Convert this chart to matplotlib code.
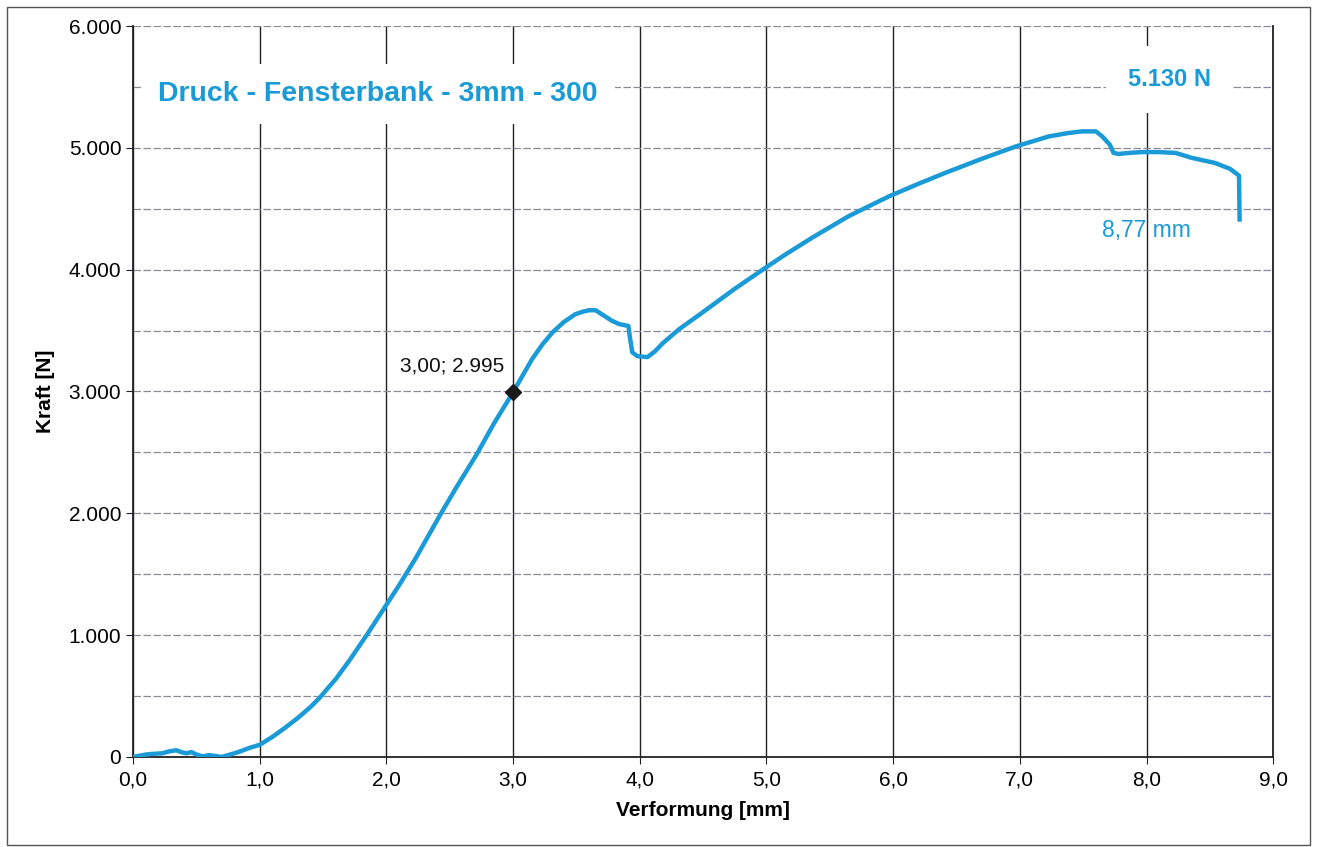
import matplotlib.pyplot as plt
from matplotlib.ticker import FuncFormatter, MultipleLocator
from matplotlib.patches import Rectangle

plt.rcParams['font.family'] = ['Liberation Sans', 'DejaVu Sans']

# Messkurve
verformung = [0.0, 0.05, 0.10, 0.15, 0.23, 0.28, 0.34, 0.38, 0.42, 0.46, 0.50, 0.55, 0.60, 0.65, 0.70,
              0.83, 0.92, 1.00, 1.10, 1.20, 1.30, 1.40, 1.47, 1.60, 1.71, 1.85, 2.00, 2.10, 2.23,
              2.42, 2.55, 2.71, 2.85, 3.00, 3.08, 3.15, 3.23, 3.31, 3.40, 3.49, 3.55, 3.60, 3.65,
              3.70, 3.78, 3.84, 3.91, 3.92, 3.94, 3.98, 4.06, 4.12, 4.18, 4.31, 4.47, 4.57, 4.75,
              4.97, 5.15, 5.36, 5.65, 5.97, 6.20, 6.41, 6.70, 6.97, 7.23, 7.38, 7.49, 7.60, 7.65,
              7.71, 7.74, 7.78, 7.86, 7.96, 8.10, 8.23, 8.36, 8.54, 8.66, 8.73, 8.735]
kraft = [0, 10, 20, 25, 30, 45, 55, 40, 30, 40, 20, 5, 15, 8, 0,
         40, 75, 100, 165, 240, 320, 410, 483, 640, 796, 1010, 1250, 1410, 1630,
         1980, 2210, 2480, 2740, 2995, 3140, 3266, 3385, 3484, 3570, 3634, 3655, 3667, 3667,
         3634, 3580, 3552, 3538, 3457, 3322, 3290, 3282, 3330, 3395, 3511, 3630, 3706, 3843,
         4000, 4125, 4262, 4440, 4603, 4705, 4794, 4910, 5012, 5094, 5121, 5135, 5135, 5094,
         5026, 4958, 4950, 4958, 4965, 4965, 4958, 4917, 4876, 4827, 4772, 4412]

punkt_x = [3.00]
punkt_y = [2995]

blau = '#1a9bd7'

fig = plt.figure(figsize=(13.18, 8.47), dpi=100)
ax = fig.add_axes([0.101, 0.1063, 0.865, 0.863])

ax.plot(verformung, kraft, color=blau, linewidth=3.2, solid_joinstyle='round', zorder=3)
ax.plot(punkt_x, punkt_y, marker='D', color='#1a1a1a', markersize=8, linestyle='none', zorder=4)

ax.set_xlim(0, 9)
ax.set_ylim(0, 6000)
ax.xaxis.set_major_locator(MultipleLocator(1))
ax.yaxis.set_major_locator(MultipleLocator(1000))
ax.yaxis.set_minor_locator(MultipleLocator(500))
ax.xaxis.set_major_formatter(FuncFormatter(lambda v, p: f"{v:.1f}".replace('.', ',')))
ax.yaxis.set_major_formatter(FuncFormatter(lambda v, p: f"{int(v):,}".replace(',', '.')))

ax.grid(axis='x', which='major', color='#222222', linewidth=1.0, linestyle='-')
ax.grid(axis='y', which='both', color='#8a8a9a', linewidth=0.9, linestyle=(0, (6, 2)))
ax.set_axisbelow(True)

ax.spines['top'].set_visible(False)
for s in ['left', 'bottom', 'right']:
    ax.spines[s].set_color('#222222')
    ax.spines[s].set_linewidth(1.3)

ax.tick_params(axis='both', which='major', labelsize=15, length=5, direction='out', color='#222222')
ax.tick_params(axis='y', which='minor', length=0)
ax.tick_params(axis='x', pad=5)

ax.set_xlabel('Verformung [mm]', fontsize=15, fontweight='bold', labelpad=8)
ax.set_ylabel('Kraft [N]', fontsize=15, fontweight='bold', labelpad=10)

box = dict(facecolor='white', edgecolor='none', pad=12)
ax.text(0.2, 5440, 'Druck - Fensterbank - 3mm - 300', color=blau, fontsize=20.5,
        fontweight='bold', va='center', ha='left', bbox=box, zorder=5)
ax.text(8.18, 5560, '5.130 N', color=blau, fontsize=17, fontweight='bold',
        va='center', ha='center', bbox=dict(facecolor='white', edgecolor='none', pad=16), zorder=5)
ax.text(8.0, 4320, '8,77 mm', color=blau, fontsize=16.5, va='center', ha='center')
ax.text(2.93, 3210, '3,00; 2.995', color='#111111', fontsize=15, va='center', ha='right')

fig.patches.append(Rectangle((0.005, 0.002), 0.989, 0.99, transform=fig.transFigure,
                             fill=False, edgecolor='#555555', linewidth=1.0))

fig.savefig('out.png', dpi=100)
